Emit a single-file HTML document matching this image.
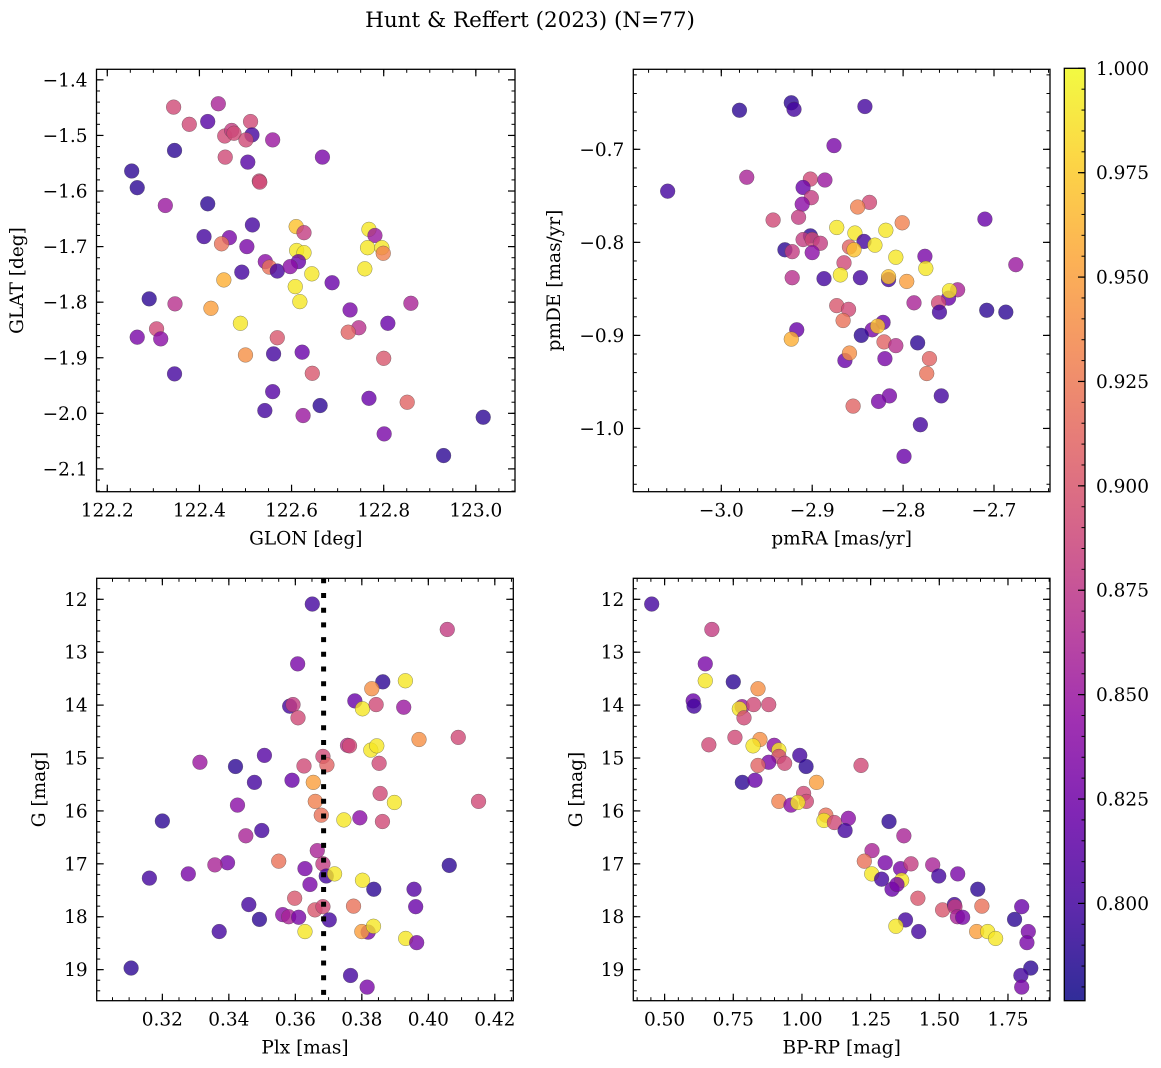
<!DOCTYPE html>
<html><head><meta charset="utf-8">
<style>
html,body{margin:0;padding:0;background:#fff;}
svg{display:block;font-family:"DejaVu Serif","Liberation Serif",serif;}
</style></head>
<body>
<svg id="fig" width="1161" height="1068" viewBox="0 0 1161 1068" xmlns="http://www.w3.org/2000/svg">
<defs>
<linearGradient id="plasmaGrad" x1="0" y1="1" x2="0" y2="0">
<stop offset="0" stop-color="#0d0887"/><stop offset="0.1" stop-color="#41049d"/><stop offset="0.2" stop-color="#6a00a8"/><stop offset="0.3" stop-color="#8f0da4"/><stop offset="0.4" stop-color="#b12a90"/><stop offset="0.5" stop-color="#cc4778"/><stop offset="0.6" stop-color="#e16462"/><stop offset="0.7" stop-color="#f2844b"/><stop offset="0.8" stop-color="#fca636"/><stop offset="0.9" stop-color="#fcce25"/><stop offset="1" stop-color="#f0f921"/>
</linearGradient>
</defs>
<text x="530" y="27" font-size="21.5" text-anchor="middle">Hunt &amp; Reffert (2023) (N=77)</text>
</svg>
<script>
// ---- Panel 1: GLON vs GLAT ----
const p1Glon=[122.344,122.441,122.378,122.418,122.455,122.470,122.475,122.511,122.514,122.501,122.559,122.346,122.456,122.667,122.505,122.530,122.531,122.253,122.265,122.326,122.418,122.515,122.610,122.627,122.768,122.781,122.410,122.465,122.448,122.503,122.611,122.627,122.765,122.796,122.799,122.543,122.615,122.552,122.569,122.597,122.492,122.644,122.759,122.453,122.688,122.608,122.618,122.291,122.347,122.425,122.727,122.859,122.489,122.809,122.307,122.746,122.723,122.265,122.316,122.569,122.500,122.561,122.623,122.800,122.346,122.645,122.559,122.768,122.851,122.542,122.662,122.625,123.016,122.801,122.930];
const p1Glat=[-1.449,-1.443,-1.480,-1.475,-1.501,-1.491,-1.496,-1.475,-1.499,-1.508,-1.508,-1.527,-1.539,-1.539,-1.548,-1.582,-1.584,-1.564,-1.594,-1.626,-1.623,-1.661,-1.664,-1.675,-1.669,-1.680,-1.682,-1.684,-1.695,-1.700,-1.707,-1.711,-1.702,-1.702,-1.712,-1.727,-1.727,-1.737,-1.744,-1.736,-1.746,-1.749,-1.740,-1.760,-1.765,-1.772,-1.799,-1.794,-1.803,-1.811,-1.814,-1.802,-1.838,-1.838,-1.848,-1.846,-1.854,-1.863,-1.866,-1.864,-1.895,-1.893,-1.890,-1.901,-1.929,-1.928,-1.961,-1.973,-1.980,-1.995,-1.986,-2.004,-2.007,-2.037,-2.076];
const p1Prob=[0.89,0.86,0.89,0.81,0.89,0.88,0.89,0.89,0.80,0.89,0.85,0.79,0.89,0.83,0.81,0.89,0.89,0.79,0.79,0.85,0.79,0.80,0.97,0.88,0.99,0.85,0.80,0.83,0.92,0.83,0.99,0.99,0.99,0.99,0.93,0.84,0.82,0.92,0.80,0.84,0.80,0.99,0.99,0.96,0.82,0.99,0.99,0.79,0.87,0.95,0.83,0.86,0.99,0.82,0.89,0.87,0.91,0.83,0.84,0.90,0.94,0.80,0.82,0.90,0.80,0.90,0.81,0.82,0.91,0.80,0.79,0.85,0.79,0.83,0.79];
const p1XTicks=["122.2","122.4","122.6","122.8","123.0"];
const p1YTicks=["-1.4","-1.5","-1.6","-1.7","-1.8","-1.9","-2.0","-2.1"];

// ---- Panel 2: pmRA vs pmDE ----
const p2PmRA=[-3.059,-2.980,-2.923,-2.920,-2.842,-2.876,-2.972,-2.902,-2.886,-2.910,-2.901,-2.911,-2.837,-2.850,-2.915,-2.943,-2.710,-2.801,-2.873,-2.819,-2.853,-2.902,-2.910,-2.900,-2.891,-2.843,-2.859,-2.831,-2.854,-2.930,-2.922,-2.900,-2.776,-2.808,-2.865,-2.676,-2.775,-2.869,-2.922,-2.887,-2.847,-2.816,-2.816,-2.796,-2.740,-2.750,-2.749,-2.788,-2.761,-2.760,-2.708,-2.687,-2.873,-2.860,-2.866,-2.822,-2.834,-2.828,-2.917,-2.923,-2.846,-2.821,-2.808,-2.784,-2.864,-2.859,-2.820,-2.771,-2.774,-2.758,-2.815,-2.827,-2.855,-2.781,-2.799];
const p2PmDE=[-0.745,-0.658,-0.650,-0.657,-0.654,-0.696,-0.730,-0.732,-0.733,-0.741,-0.752,-0.759,-0.757,-0.762,-0.773,-0.776,-0.775,-0.779,-0.784,-0.787,-0.790,-0.793,-0.797,-0.797,-0.801,-0.799,-0.805,-0.803,-0.808,-0.808,-0.810,-0.811,-0.815,-0.816,-0.822,-0.824,-0.828,-0.835,-0.838,-0.839,-0.838,-0.840,-0.837,-0.842,-0.851,-0.860,-0.852,-0.865,-0.865,-0.875,-0.873,-0.875,-0.868,-0.872,-0.884,-0.886,-0.894,-0.890,-0.894,-0.904,-0.900,-0.907,-0.911,-0.908,-0.927,-0.919,-0.925,-0.925,-0.941,-0.965,-0.965,-0.971,-0.976,-0.996,-1.030];
const p2Prob=[0.80,0.79,0.79,0.80,0.80,0.83,0.86,0.89,0.85,0.82,0.88,0.84,0.89,0.93,0.88,0.89,0.82,0.93,0.99,0.99,0.99,0.79,0.88,0.89,0.88,0.80,0.91,0.99,0.97,0.79,0.88,0.84,0.83,0.99,0.89,0.85,0.99,0.99,0.87,0.80,0.80,0.80,0.97,0.95,0.86,0.82,0.99,0.86,0.89,0.80,0.79,0.79,0.90,0.89,0.92,0.82,0.83,0.97,0.82,0.96,0.79,0.91,0.87,0.79,0.82,0.94,0.83,0.91,0.92,0.80,0.83,0.83,0.91,0.80,0.82];
const p2XTicks=["-3.0","-2.9","-2.8","-2.7"];
const p2YTicks=["-0.7","-0.8","-0.9","-1.0"];

// ---- Panel 3: Plx vs G ----
const p3Plx=[0.3651,0.4057,0.3607,0.3863,0.3931,0.3830,0.3779,0.3802,0.3843,0.3926,0.3583,0.3593,0.3608,0.3757,0.3763,0.3827,0.3845,0.3972,0.4090,0.3507,0.3313,0.3420,0.3626,0.3683,0.3695,0.3852,0.3477,0.3590,0.3654,0.3855,0.3898,0.4151,0.3660,0.3426,0.3678,0.3200,0.3746,0.3794,0.3862,0.3499,0.3451,0.3666,0.3550,0.3396,0.3358,0.3683,0.4063,0.3629,0.3161,0.3278,0.3693,0.3718,0.3802,0.3644,0.3836,0.3957,0.3598,0.3460,0.3775,0.3962,0.3659,0.3683,0.3562,0.3580,0.3610,0.3492,0.3702,0.3371,0.3629,0.3819,0.3800,0.3835,0.3932,0.3965,0.3106,0.3766,0.3816];
const p3G=[12.09,12.57,13.22,13.56,13.54,13.69,13.92,14.07,13.99,14.04,14.02,13.99,14.24,14.76,14.77,14.85,14.77,14.65,14.61,14.95,15.08,15.16,15.15,14.97,15.13,15.10,15.46,15.42,15.46,15.67,15.84,15.82,15.82,15.89,16.08,16.19,16.17,16.13,16.20,16.37,16.47,16.75,16.95,16.98,17.02,17.00,17.03,17.09,17.27,17.19,17.23,17.19,17.31,17.39,17.48,17.48,17.65,17.77,17.80,17.81,17.87,17.81,17.96,18.00,18.01,18.05,18.06,18.28,18.28,18.29,18.28,18.18,18.41,18.49,18.97,19.11,19.33];
const p3Prob=[0.80,0.88,0.83,0.79,0.99,0.94,0.82,0.99,0.89,0.85,0.80,0.88,0.89,0.87,0.89,0.99,0.99,0.94,0.89,0.81,0.85,0.79,0.89,0.89,0.91,0.89,0.80,0.82,0.95,0.89,0.99,0.89,0.93,0.84,0.92,0.79,0.99,0.84,0.89,0.80,0.86,0.86,0.92,0.83,0.86,0.88,0.79,0.83,0.80,0.83,0.80,0.99,0.99,0.83,0.79,0.81,0.90,0.80,0.92,0.82,0.90,0.89,0.84,0.86,0.83,0.79,0.80,0.80,0.99,0.83,0.95,0.99,0.99,0.83,0.79,0.80,0.83];
const p3XTicks=["0.32","0.34","0.36","0.38","0.40","0.42"];
const p3YTicks=["12","13","14","15","16","17","18","19"];
const plxCut=0.3685;

// ---- Panel 4: BP-RP vs G ----
const p4BpRp=[0.453,0.672,0.648,0.648,0.750,0.840,0.604,0.607,0.782,0.772,0.824,0.879,0.789,0.756,0.661,0.847,0.822,0.899,0.916,0.916,0.937,0.879,0.840,0.992,1.015,1.215,0.783,0.829,1.053,1.006,1.016,0.916,0.960,0.985,1.087,1.080,1.118,1.169,1.157,1.317,1.371,1.255,1.227,1.303,1.359,1.397,1.476,1.567,1.254,1.290,1.363,1.498,1.328,1.346,1.640,1.422,1.512,1.555,1.557,1.655,1.800,1.566,1.585,1.377,1.774,1.342,1.425,1.636,1.676,1.705,1.824,1.819,1.833,1.797,1.800];
const p4G=[12.09,12.57,13.22,13.54,13.56,13.69,13.92,14.02,14.03,14.07,13.99,13.99,14.24,14.61,14.75,14.65,14.77,14.76,14.85,14.97,15.10,15.08,15.14,14.95,15.16,15.14,15.46,15.42,15.46,15.67,15.82,15.82,15.89,15.84,16.08,16.18,16.22,16.14,16.37,16.20,16.47,16.75,16.95,16.98,17.09,17.00,17.02,17.19,17.19,17.29,17.31,17.23,17.48,17.39,17.48,17.65,17.87,17.77,17.81,17.80,17.81,18.00,18.01,18.06,18.05,18.18,18.28,18.28,18.28,18.41,18.28,18.49,18.97,19.11,19.33];
const p4Prob=[0.80,0.88,0.83,0.99,0.79,0.94,0.82,0.80,0.85,0.99,0.89,0.89,0.89,0.89,0.89,0.94,0.99,0.84,0.99,0.89,0.89,0.83,0.91,0.80,0.79,0.89,0.79,0.82,0.95,0.89,0.89,0.93,0.84,0.99,0.92,0.99,0.89,0.84,0.80,0.79,0.86,0.86,0.92,0.83,0.83,0.88,0.86,0.83,0.99,0.80,0.99,0.80,0.82,0.83,0.79,0.90,0.90,0.80,0.88,0.92,0.82,0.86,0.83,0.80,0.79,0.99,0.80,0.95,0.99,0.99,0.83,0.83,0.79,0.80,0.83];
const p4XTicks=["0.50","0.75","1.00","1.25","1.50","1.75"];
const p4YTicks=p3YTicks;

// ---- Colorbar ----
const cbTicks=["0.800","0.825","0.850","0.875","0.900","0.925","0.950","0.975","1.000"];
const cMin=0.7767, cMax=1.0;

const NS="http://www.w3.org/2000/svg";
const svg=document.getElementById('fig');
const plasma=["#0d0887","#41049d","#6a00a8","#8f0da4","#b12a90","#cc4778","#e16462","#f2844b","#fca636","#fcce25","#f0f921"];
function hex(h){return [1,3,5].map(i=>parseInt(h.substr(i,2),16));}
function cmap(v){let t=(v-cMin)/(cMax-cMin);t=Math.max(0,Math.min(1,t));const f=t*10,i=Math.min(9,Math.floor(f)),r=f-i;const a=hex(plasma[i]),b=hex(plasma[i+1]);return 'rgb('+a.map((x,k)=>Math.round(x+(b[k]-x)*r)).join(',')+')';}
function mk(tag,attrs,parent){const e=document.createElementNS(NS,tag);for(const k in attrs)e.setAttribute(k,attrs[k]);(parent||svg).appendChild(e);return e;}
function fmt(s){return s.replace('-','\u2212');}
const FS=18.5;

function panel(o){
  const g=mk('g',{});
  
  
  const sx=v=>o.x0+(v-o.xmin)/(o.xmax-o.xmin)*(o.x1-o.x0);
  const sy=o.yinv?(v=>o.y0+(v-o.ymin)/(o.ymax-o.ymin)*(o.y1-o.y0)):(v=>o.y1-(v-o.ymin)/(o.ymax-o.ymin)*(o.y1-o.y0));
  for(let i=0;i<o.xs.length;i++){
    const c=mk('circle',{cx:sx(o.xs[i]),cy:sy(o.ys[i]),r:7.4,fill:cmap(o.cs[i]),'fill-opacity':0.8,stroke:'#444','stroke-opacity':0.6,'stroke-width':0.5},g);
    
    
  }
  if(o.vline!==undefined){
    const l=mk('line',{x1:sx(o.vline),x2:sx(o.vline),y1:o.y0,y2:o.y1,stroke:'#000','stroke-width':5,'stroke-dasharray':'5 9.7'},g);
    
    
  }
  const minorX=[],minorY=[];
  for(let v=Math.ceil(o.xmin/o.xminor-1e-6)*o.xminor;v<=o.xmax+1e-9;v+=o.xminor)minorX.push(v);
  for(let v=Math.ceil(o.ymin/o.yminor-1e-6)*o.yminor;v<=o.ymax+1e-9;v+=o.yminor)minorY.push(v);
  minorX.forEach(v=>{const x=sx(v);mk('line',{x1:x,x2:x,y1:o.y1,y2:o.y1-3.5,stroke:'#000','stroke-width':1},g);mk('line',{x1:x,x2:x,y1:o.y0,y2:o.y0+3.5,stroke:'#000','stroke-width':1},g);});
  minorY.forEach(v=>{const y=sy(v);mk('line',{x1:o.x0,x2:o.x0+3.5,y1:y,y2:y,stroke:'#000','stroke-width':1},g);mk('line',{x1:o.x1,x2:o.x1-3.5,y1:y,y2:y,stroke:'#000','stroke-width':1},g);});
  o.xt.forEach(s=>{const x=sx(parseFloat(s));
    mk('line',{x1:x,x2:x,y1:o.y1,y2:o.y1-7,stroke:'#000','stroke-width':1.2},g);
    mk('line',{x1:x,x2:x,y1:o.y0,y2:o.y0+7,stroke:'#000','stroke-width':1.2},g);
    const t=mk('text',{x:x,y:o.y1+25,'font-size':FS,'text-anchor':'middle'},g);t.textContent=fmt(s);
    
    
  });
  o.yt.forEach(s=>{const y=sy(parseFloat(s));
    mk('line',{x1:o.x0,x2:o.x0+7,y1:y,y2:y,stroke:'#000','stroke-width':1.2},g);
    mk('line',{x1:o.x1,x2:o.x1-7,y1:y,y2:y,stroke:'#000','stroke-width':1.2},g);
    const t=mk('text',{x:o.x0-9,y:y+6.5,'font-size':FS,'text-anchor':'end'},g);t.textContent=fmt(s);
    
    
  });
  const fr=mk('rect',{x:o.x0,y:o.y0,width:o.x1-o.x0,height:o.y1-o.y0,fill:'none',stroke:'#000','stroke-width':1.3},g);
  
  
  const xl=mk('text',{x:(o.x0+o.x1)/2,y:o.y1+53,'font-size':FS,'text-anchor':'middle'},g);xl.textContent=o.xlabel;
  
  
  const yx=o.ylabX,yy=(o.y0+o.y1)/2;
  const yl=mk('text',{x:yx,y:yy,'font-size':FS,'text-anchor':'middle',transform:'rotate(-90 '+yx+' '+yy+')'},g);yl.textContent=o.ylabel;
  
  
}

panel({name:'glon-glat-panel',x0:96.5,x1:515,y0:69.3,y1:491.7,xmin:122.1766,xmax:123.085,ymin:-2.141,ymax:-1.381,xs:p1Glon,ys:p1Glat,cs:p1Prob,xt:p1XTicks,yt:p1YTicks,xminor:0.05,yminor:0.02,xlabel:'GLON [deg]',ylabel:'GLAT [deg]',ylabX:23});
panel({name:'proper-motion-panel',x0:633.3,x1:1050,y0:69.3,y1:491.7,xmin:-3.0968,xmax:-2.6384,ymin:-1.068,ymax:-0.614,xs:p2PmRA,ys:p2PmDE,cs:p2Prob,xt:p2XTicks,yt:p2YTicks,xminor:0.02,yminor:0.02,xlabel:'pmRA [mas/yr]',ylabel:'pmDE [mas/yr]',ylabX:560});
panel({name:'parallax-magnitude-panel',x0:96.7,x1:513.3,y0:578.3,y1:1000.7,xmin:0.30025,xmax:0.42556,ymin:11.603,ymax:19.587,yinv:true,xs:p3Plx,ys:p3G,cs:p3Prob,xt:p3XTicks,yt:p3YTicks,xminor:0.005,yminor:0.2,xlabel:'Plx [mas]',ylabel:'G [mag]',ylabX:45,vline:plxCut});
panel({name:'color-magnitude-panel',x0:633.3,x1:1050,y0:578.3,y1:1000.7,xmin:0.386,xmax:1.903,ymin:11.603,ymax:19.587,yinv:true,xs:p4BpRp,ys:p4G,cs:p4Prob,xt:p4XTicks,yt:p4YTicks,xminor:0.05,yminor:0.2,xlabel:'BP-RP [mag]',ylabel:'G [mag]',ylabX:582});

const cb=mk('g',{});


const cbx0=1064.3,cbx1=1085,cby0=68.3,cby1=1000.7;
const cy=v=>cby1-(v-cMin)/(cMax-cMin)*(cby1-cby0);
mk('rect',{x:cbx0,y:cby0,width:cbx1-cbx0,height:cby1-cby0,fill:'url(#plasmaGrad)','fill-opacity':0.85},cb);
for(let v=0.780;v<=1.0001;v+=0.005){const y=cy(v);mk('line',{x1:cbx1,x2:cbx1-3.5,y1:y,y2:y,stroke:'#000','stroke-width':1},cb);}
cbTicks.forEach(s=>{const y=cy(parseFloat(s));
  mk('line',{x1:cbx1,x2:cbx1-7,y1:y,y2:y,stroke:'#000','stroke-width':1.2},cb);
  const t=mk('text',{x:1096,y:y+6.5,'font-size':FS},cb);t.textContent=s;
  
  
});
mk('rect',{x:cbx0,y:cby0,width:cbx1-cbx0,height:cby1-cby0,fill:'none',stroke:'#000','stroke-width':1.3},cb);
</script>
</body></html>
